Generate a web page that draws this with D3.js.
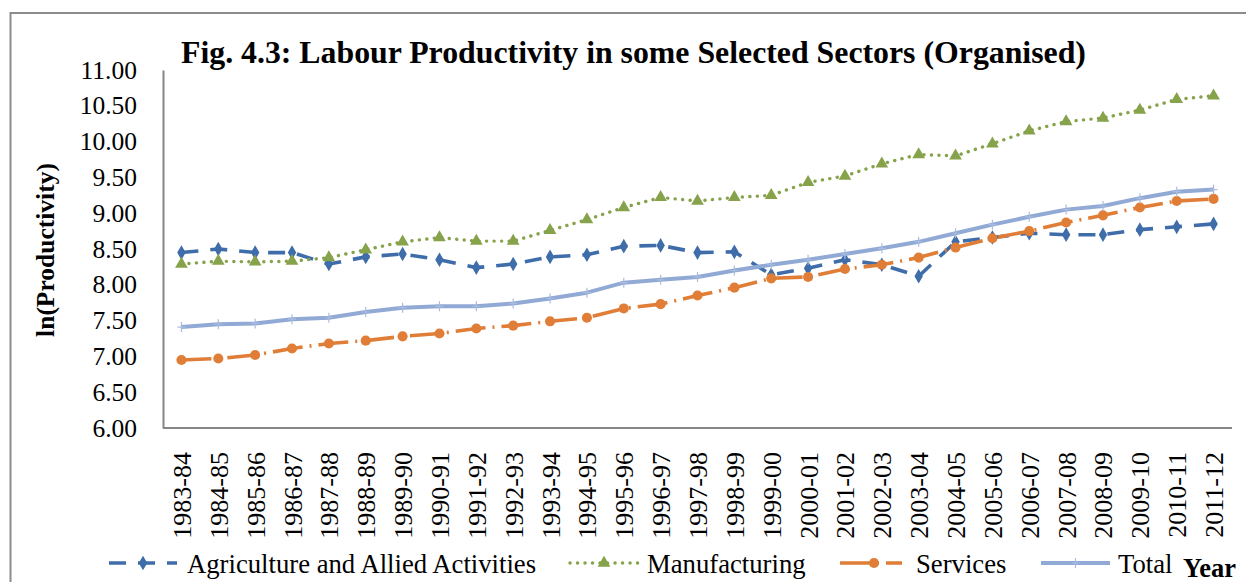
<!DOCTYPE html>
<html>
<head>
<meta charset="utf-8">
<script src="https://cdn.jsdelivr.net/npm/d3@7"></script>
<style>
  html, body { margin: 0; padding: 0; background: #fff; }
  svg { display: block; font-family: "Liberation Serif", "Times New Roman", serif; }
</style>
</head>
<body>
<svg id="chart" width="1246" height="582"></svg>
<script>
// Fiscal years on the category axis
const years = ["1983-84","1984-85","1985-86","1986-87","1987-88","1988-89","1989-90","1990-91",
  "1991-92","1992-93","1993-94","1994-95","1995-96","1996-97","1997-98","1998-99","1999-00",
  "2000-01","2001-02","2002-03","2003-04","2004-05","2005-06","2006-07","2007-08","2008-09",
  "2009-10","2010-11","2011-12"];

// ln(labour productivity) by sector
const agriculture = [8.45,8.50,8.45,8.45,8.29,8.39,8.43,8.35,8.24,8.29,8.39,8.42,8.54,8.55,8.45,8.46,
  8.14,8.23,8.35,8.28,8.12,8.60,8.66,8.72,8.70,8.70,8.77,8.81,8.85];
const manufacturing = [8.29,8.33,8.32,8.33,8.38,8.49,8.60,8.66,8.61,8.61,8.76,8.91,9.08,9.22,9.17,9.22,
  9.25,9.43,9.52,9.69,9.82,9.80,9.97,10.15,10.28,10.33,10.44,10.59,10.64];
const services = [6.95,6.97,7.02,7.11,7.18,7.22,7.28,7.32,7.39,7.43,7.49,7.54,7.67,7.73,7.85,7.96,
  8.09,8.11,8.22,8.28,8.38,8.52,8.65,8.75,8.87,8.97,9.08,9.17,9.20];
const total = [7.41,7.45,7.46,7.52,7.54,7.62,7.68,7.70,7.70,7.74,7.81,7.89,8.03,8.07,8.11,8.20,
  8.28,8.35,8.43,8.51,8.60,8.72,8.84,8.95,9.05,9.10,9.21,9.30,9.33];

const yTicks = [6,6.5,7,7.5,8,8.5,9,9.5,10,10.5,11];

const seriesNames = ["Agriculture and Allied Activities","Manufacturing","Services","Total"];

const svg = d3.select("#chart");

// outer chart frame
svg.append("rect")
  .attr("x", 10.5).attr("y", 13).attr("width", 1260).attr("height", 600)
  .attr("fill", "none").attr("stroke", "#8c8c8c").attr("stroke-width", 2);

const plot = { left: 163, right: 1232, top: 70, bottom: 428 };

const x = d3.scalePoint().domain(years).range([plot.left, plot.right]).padding(0.5);
const y = d3.scaleLinear().domain([6, 11]).range([plot.bottom, plot.top]);

// title
svg.append("text")
  .attr("x", 181).attr("y", 63)
  .attr("font-size", 31.8).attr("font-weight", "bold").attr("fill", "#000")
  .text("Fig. 4.3: Labour Productivity in some Selected Sectors (Organised)");

// y axis
const yAxis = svg.append("g")
  .attr("transform", `translate(${plot.left},0)`)
  .call(d3.axisLeft(y).tickValues(yTicks).tickFormat(d3.format(".2f")).tickSize(0).tickPadding(26));
yAxis.select(".domain").attr("stroke", "#868686").attr("stroke-width", 2);
yAxis.selectAll("text")
  .attr("font-family", "Liberation Serif").attr("font-size", 25.5).attr("fill", "#000");

// x axis
const xAxis = svg.append("g")
  .attr("transform", `translate(0,${plot.bottom})`)
  .call(d3.axisBottom(x).tickSize(0).tickPadding(0));
xAxis.select(".domain").attr("stroke", "#868686").attr("stroke-width", 2)
  .attr("d", `M${plot.left},0H${plot.right}`);
xAxis.selectAll("text")
  .attr("font-family", "Liberation Serif").attr("font-size", 26).attr("fill", "#000")
  .attr("text-anchor", "end")
  .attr("dy", null)
  .attr("transform", "translate(9,24) rotate(-90)")
  .attr("x", 0).attr("y", 0);

// axis titles
svg.append("text")
  .attr("transform", "translate(54,250) rotate(-90)")
  .attr("text-anchor", "middle")
  .attr("font-size", 25.5).attr("font-weight", "bold")
  .text("ln(Productivity)");

svg.append("text")
  .attr("x", 1183).attr("y", 577)
  .attr("font-size", 26.5).attr("font-weight", "bold")
  .text("Year");

// series styling
const styles = [
  { name: seriesNames[0], values: agriculture, color: "#3F6DAA", width: 3.6, dash: "17,12", cap: "butt",
    symbol: d3.symbolDiamond, size: 62 },
  { name: seriesNames[1], values: manufacturing, color: "#86A24A", width: 3.4, dash: "0.1,7.4", cap: "round",
    symbol: d3.symbolTriangle, size: 70 },
  { name: seriesNames[2], values: services, color: "#E07D36", width: 3.6, dash: "30,7,2,7", cap: "butt",
    symbol: d3.symbolCircle, size: 80 },
  { name: seriesNames[3], values: total, color: "#91A9D5", width: 4, dash: null, cap: "butt",
    symbol: null, size: 0 }
];

const line = d3.line().x((d, i) => x(years[i])).y(d => y(d));

styles.forEach(s => {
  const g = svg.append("g");
  g.append("path")
    .datum(s.values)
    .attr("d", line)
    .attr("fill", "none")
    .attr("stroke", s.color)
    .attr("stroke-width", s.width)
    .attr("stroke-linecap", s.cap)
    .attr("stroke-linejoin", "round")
    .attr("stroke-dasharray", s.dash);
  if (s.symbol) {
    g.selectAll("path.m")
      .data(s.values)
      .join("path")
      .attr("class", "m")
      .attr("d", d3.symbol(s.symbol, s.size))
      .attr("transform", (d, i) => `translate(${x(years[i])},${y(d)})`)
      .attr("fill", s.color);
  } else {
    // small plus markers on the total line
    g.selectAll("path.m")
      .data(s.values)
      .join("path")
      .attr("class", "m")
      .attr("d", "M-4,0H4M0,-5V5")
      .attr("transform", (d, i) => `translate(${x(years[i])},${y(d)})`)
      .attr("stroke", "#A9BCE0")
      .attr("stroke-width", 1.2)
      .attr("fill", "none");
  }
});

// legend
const legendItems = [
  { s: styles[0], x0: 109, x1: 177, tx: 187 },
  { s: styles[1], x0: 570, x1: 638, tx: 647 },
  { s: styles[2], x0: 840, x1: 902, tx: 916 },
  { s: styles[3], x0: 1041, x1: 1110, tx: 1118 }
];
const ly = 563;
legendItems.forEach(it => {
  const s = it.s;
  const g = svg.append("g");
  g.append("line")
    .attr("x1", it.x0).attr("x2", it.x1).attr("y1", ly).attr("y2", ly)
    .attr("stroke", s.color).attr("stroke-width", s.width)
    .attr("stroke-linecap", s.cap)
    .attr("stroke-dasharray", s.dash);
  const cx = s === styles[2] ? 874 : (it.x0 + it.x1) / 2;
  if (s.symbol) {
    g.append("path")
      .attr("d", d3.symbol(s.symbol, s.size))
      .attr("transform", `translate(${cx},${ly})`)
      .attr("fill", s.color);
  } else {
    g.append("path")
      .attr("d", "M-4,0H4M0,-5V5")
      .attr("transform", `translate(${cx},${ly})`)
      .attr("stroke", "#A9BCE0").attr("stroke-width", 1.2);
  }
  g.append("text")
    .attr("x", it.tx).attr("y", 573)
    .attr("font-size", 26.7).attr("fill", "#000")
    .text(s.name);
});
</script>
</body>
</html>
